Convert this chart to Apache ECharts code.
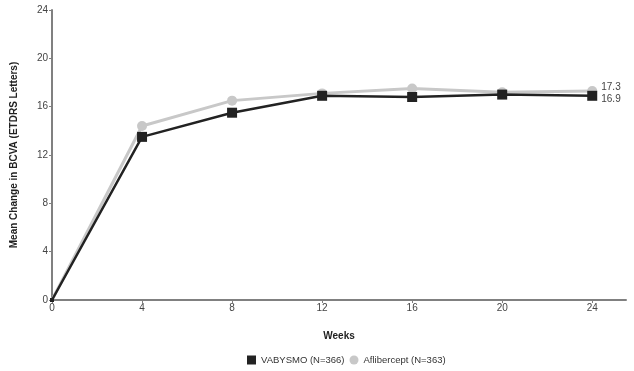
<!DOCTYPE html>
<html><head><meta charset="utf-8">
<script src="https://cdn.jsdelivr.net/npm/echarts@6/dist/echarts.min.js"></script>
<style>html,body{margin:0;padding:0;background:#fff}#c{width:634px;height:371px}</style>
</head><body><div id="c"></div>
<script>
const weeks = [0, 4, 8, 12, 16, 20, 24];
const vabysmo = [0, 13.5, 15.5, 16.9, 16.8, 17.0, 16.9];
const aflibercept = [0, 14.4, 16.5, 17.1, 17.5, 17.2, 17.3];
const xTicks = [0, 4, 8, 12, 16, 20, 24];
const seriesNames = ['VABYSMO (N=366)', 'Aflibercept (N=363)'];
const endLabels = ['16.9', '17.3'];

const chart = echarts.init(document.getElementById('c'));
const font = 'Liberation Sans, Arial, sans-serif';
function withEnd(vals, lbl, off){
  const d = weeks.map((w,i)=>[w, vals[i]]);
  d[0] = {value: d[0], symbolSize: 4};
  d[d.length-1] = {value: d[d.length-1], label:{show:true, position:'right', formatter: lbl, distance:4, offset:[0,off], color:'#444', fontSize:10, fontFamily:font}};
  return d;
}
chart.setOption({
  animation:false,
  grid:{left:52, right:8, top:10, bottom:71, outerBoundsMode:'none'},
  xAxis:{type:'value', min:0, max:25.5, interval:4,
    name:'Weeks', nameLocation:'middle', nameGap:31,
    nameTextStyle:{fontWeight:'bold', fontSize:10, color:'#222', fontFamily:font},
    axisLine:{lineStyle:{color:'#808080', width:2}},
    axisTick:{show:true, customValues:xTicks, length:3, lineStyle:{color:'#808080'}},
    axisLabel:{customValues:xTicks, color:'#444', fontSize:10, fontFamily:font, margin:3},
    splitLine:{show:false}},
  yAxis:{type:'value', min:0, max:24, interval:4,
    name:'Mean Change in BCVA (ETDRS Letters)', nameLocation:'middle', nameGap:33,
    nameTextStyle:{fontWeight:'bold', fontSize:10, color:'#222', fontFamily:font},
    axisLine:{show:true, lineStyle:{color:'#808080', width:2}},
    axisTick:{show:true, length:3, lineStyle:{color:'#808080'}},
    axisLabel:{color:'#444', fontSize:10, fontFamily:font, margin:4},
    splitLine:{show:false}},
  legend:{bottom:1, left:242, itemGap:5, itemWidth:9, itemHeight:9,
    textStyle:{color:'#333', fontSize:9.5, fontFamily:font},
    data:[{name:seriesNames[0], icon:'rect'},{name:seriesNames[1], icon:'circle'}]},
  series:[
    {name:seriesNames[1], type:'line', data:withEnd(aflibercept, endLabels[1], -4), symbol:'circle', symbolSize:10,
     z:2, itemStyle:{color:'#c8c8c8'}, lineStyle:{color:'#c8c8c8', width:3}},
    {name:seriesNames[0], type:'line', data:withEnd(vabysmo, endLabels[0], 3), symbol:'rect', symbolSize:10,
     z:3, itemStyle:{color:'#222'}, lineStyle:{color:'#222', width:2.5}}
  ]
});
</script></body></html>
